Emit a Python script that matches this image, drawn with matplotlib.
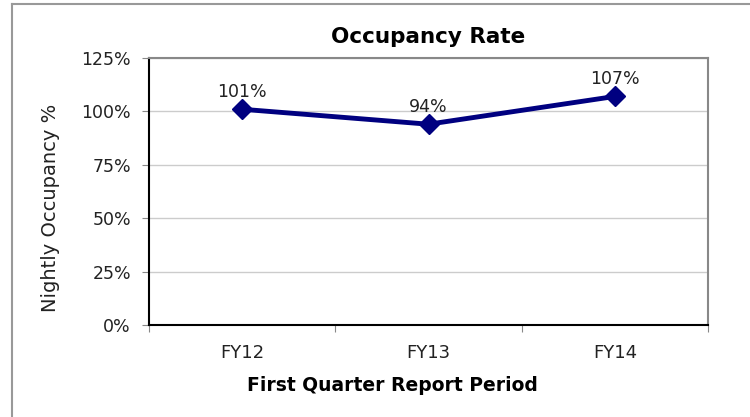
import matplotlib
matplotlib.use("Agg")
import matplotlib.pyplot as plt
from matplotlib.lines import Line2D
from matplotlib.ticker import FuncFormatter

periods = ["FY12", "FY13", "FY14"]
occupancy = [101, 94, 107]
labels = ["101%", "94%", "107%"]

plt.rcParams['font.family'] = ['DejaVu Sans']

fig = plt.figure(figsize=(7.5, 4.17), dpi=100)
ax = fig.add_axes([149 / 750, 1 - 325 / 417, (708 - 149) / 750, (325 - 58) / 417])

x = list(range(1, len(periods) + 1))
ax.plot(x, occupancy, color="#000080", lw=3.5, marker="D", ms=10, zorder=3)
for xi, yi, lab in zip(x, occupancy, labels):
    ax.annotate(lab, (xi, yi), xytext=(0, 6), textcoords="offset points",
                ha="center", va="bottom", fontsize=12.5, color="#222222")

ax.set_xlim(0.5, 3.5)
ax.set_ylim(0, 125)
ax.set_yticks([0, 25, 50, 75, 100, 125])
ax.yaxis.set_major_formatter(FuncFormatter(lambda v, p: f"{v:.0f}%"))
ax.set_xticks([0.5, 1.5, 2.5, 3.5])
ax.set_xticklabels([])
ax.set_xticks(x, minor=True)
ax.set_xticklabels(periods, minor=True)
ax.tick_params(axis="x", which="minor", length=0, pad=13.5, labelsize=13, labelcolor="#222222")
ax.tick_params(axis="x", which="major", length=5, color="#888888")
ax.tick_params(axis="y", length=5, pad=8, color="#888888", labelsize=12.5, labelcolor="#222222")

ax.grid(axis="y", color="#cccccc", lw=1)
ax.set_axisbelow(True)
for s in ["top", "right"]:
    ax.spines[s].set_color("#888888")
    ax.spines[s].set_linewidth(1.5)
for s in ["left", "bottom"]:
    ax.spines[s].set_color("black")
    ax.spines[s].set_linewidth(1.5)

ax.set_title("Occupancy Rate", fontsize=15.5, fontweight="bold", pad=10.5)
ax.set_xlabel("First Quarter Report Period", fontsize=13.5, fontweight="bold")
ax.xaxis.set_label_coords(0.436, -0.225)
ax.xaxis.label.set_va("center")
ax.set_ylabel("Nightly Occupancy %", fontsize=14, color="#222222")
ax.yaxis.set_label_coords(-0.177, 0.44)
ax.yaxis.label.set_va("center")

# outer chart border
fig.add_artist(Line2D([12 / 750, 12 / 750], [0, 1 - 4 / 417], color="#999999", lw=1.5))
fig.add_artist(Line2D([12 / 750, 1], [1 - 4 / 417, 1 - 4 / 417], color="#999999", lw=1.5))

fig.savefig("out.png", dpi=100)
